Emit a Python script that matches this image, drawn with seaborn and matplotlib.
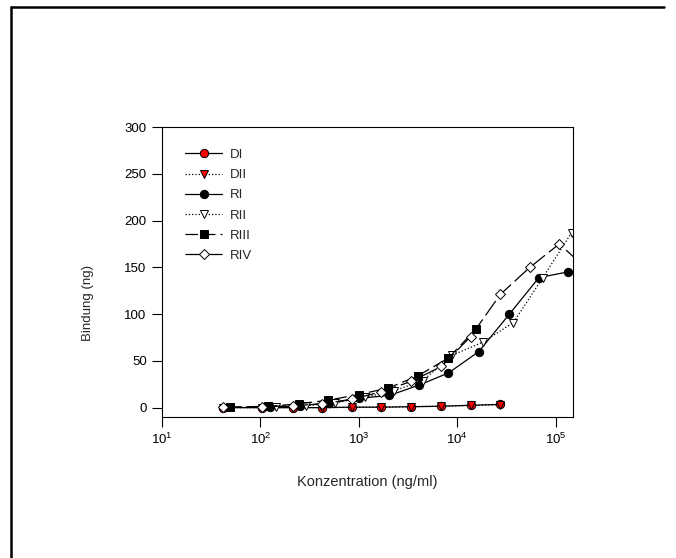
import numpy as np
import pandas as pd
import seaborn as sns
import matplotlib.pyplot as plt
from matplotlib.lines import Line2D

sns.set_theme(style="ticks")
plt.rcParams['font.family'] = ['Liberation Sans', 'DejaVu Sans']

# concentrations (ng/ml) and binding (ng)
conc_d = [42, 105, 213, 427, 853, 1700, 3400, 6900, 13700, 27400]
di = [0, 0, 0, 0, 0.5, 0.5, 1, 1.5, 2.5, 3.5]
dii = [0, 0, 0, 0, 0.3, 0.5, 1, 1.5, 2.5, 3]

conc_ri = [125, 250, 500, 1000, 2040, 4070, 8130, 16600, 33900, 67600, 132000]
ri = [0.5, 2, 5, 10, 13, 24, 37, 60, 100, 139, 145]

conc_rii = [145, 290, 575, 1150, 2290, 4470, 8910, 18200, 37200, 74100, 145000]
rii = [0.5, 2, 5, 11, 18, 29, 56, 70, 91, 139, 187]

conc_riii = [49, 120, 245, 490, 1000, 2000, 3980, 8130, 15500]
riii = [0.5, 1.5, 4, 8, 14, 21, 34, 53, 84]

conc_riv = [42, 105, 213, 427, 853, 1700, 3400, 6900, 13700, 27400, 54700, 109000, 219000]
riv = [0.5, 1, 2, 4, 9, 17, 28, 44, 76, 121, 150, 175, 146]

series = [
    ("DI", conc_d, di, "o", "-", "red"),
    ("DII", conc_d, dii, "v", ":", "red"),
    ("RI", conc_ri, ri, "o", "-", "black"),
    ("RII", conc_rii, rii, "v", ":", "white"),
    ("RIII", conc_riii, riii, "s", (0, (10, 4)), "black"),
    ("RIV", conc_riv, riv, "D", (0, (14, 4)), "white"),
]

fig = plt.figure(figsize=(6.76, 5.58), dpi=100)
ax = fig.add_axes([0.2396, 0.2527, 0.608, 0.5197])

for name, x, y, m, ls, fc in series:
    sns.lineplot(x=x, y=y, ax=ax, marker=m, linestyle=ls, color="black",
                 markerfacecolor=fc, markeredgecolor="black", markeredgewidth=0.7,
                 markersize=6 if m != "D" else 5, linewidth=0.9,
                 label=name, errorbar=None, sort=False)

ax.set_xscale("log")
ax.set_xlim(10, 1.5e5)
ax.set_ylim(-10, 300)
ax.set_yticks([0, 50, 100, 150, 200, 250, 300])
ax.set_xticks([1e1, 1e2, 1e3, 1e4, 1e5])
ax.minorticks_off()
ax.tick_params(direction="out", length=7, width=0.8, labelsize=9.5, colors="black", pad=4)
for s in ax.spines.values():
    s.set_linewidth(0.8)
    s.set_color("black")

ax.set_xlabel("Konzentration (ng/ml)", fontsize=10.5, labelpad=20)
ax.set_ylabel("Bindung (ng)", fontsize=9.5)
ax.yaxis.set_label_coords(-0.165, 0.393)

ax.legend(loc="upper left", bbox_to_anchor=(0.044, 0.943), frameon=False, fontsize=9.5,
          handlelength=2.8, handletextpad=0.6, labelspacing=0.6, borderaxespad=0)

# page border (left and top)
fig.add_artist(Line2D([11/676, 11/676], [0, 1 - 7/558], transform=fig.transFigure,
                      color="black", linewidth=1.8))
fig.add_artist(Line2D([11/676, 664/676], [1 - 7/558, 1 - 7/558], transform=fig.transFigure,
                      color="black", linewidth=1.8))

fig.savefig("out.png", dpi=100)
